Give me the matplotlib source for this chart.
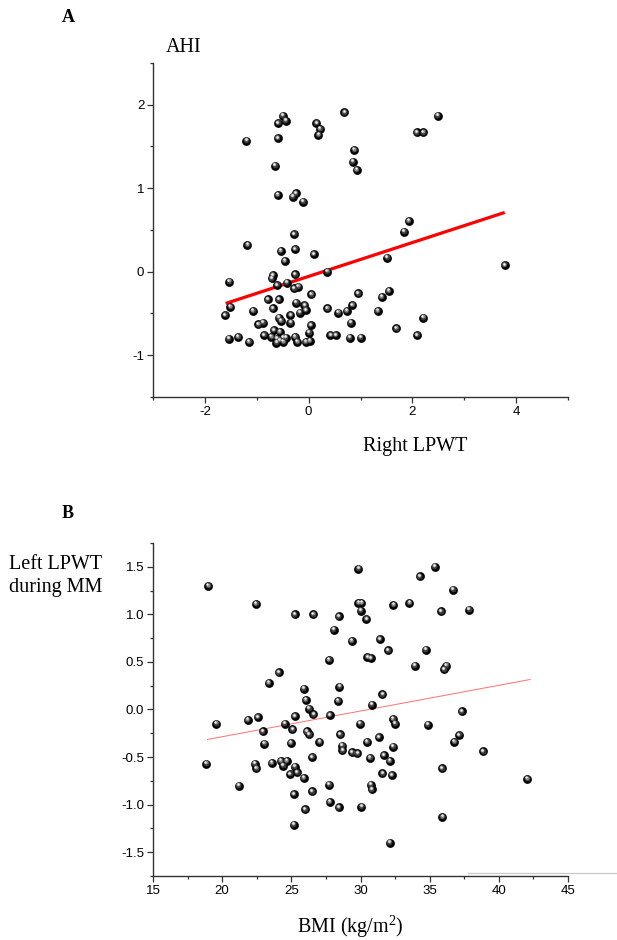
import matplotlib
matplotlib.use('Agg')
import matplotlib.pyplot as plt
import matplotlib.transforms as mtransforms
from matplotlib.lines import Line2D
from matplotlib.ticker import MultipleLocator
import numpy as np

plt.rcParams['axes.unicode_minus'] = False
plt.rcParams['mathtext.fontset'] = 'custom'
plt.rcParams['mathtext.rm'] = 'Liberation Serif'
plt.rcParams['mathtext.it'] = 'Liberation Serif:italic'

# panel A: Right LPWT vs AHI
right_lpwt = [-1.20, -0.60, -0.65, -0.60, -0.31, -0.25, -0.11, -0.50, -0.44, -0.59, 0.15, 0.22,
              0.19, 0.69, 0.88, 0.85, 0.93, 2.08, 2.21, 2.49, 1.93, 1.84, -0.28, -1.18,
              -0.54, -0.26, 0.10, -0.46, 1.51, -1.53, -0.69, -0.71, -0.26, 0.36, -0.61, -0.42,
              -0.28, -0.20, 0.05, -1.51, -1.61, -0.79, -0.58, -1.07, -0.69, -0.24, -0.08, -0.06,
              -0.17, -0.35, -0.58, -0.53, -0.35, -0.97, -0.88, 0.04, 0.36, 0.57, 0.73, 0.84,
              0.95, 0.81, 1.33, 1.41, 1.54, 1.69,
              -1.54, -1.36, -1.15, -0.86, -0.67, -0.56, -0.72, -0.61, -0.49, -0.62, -0.49, -0.44,
              -0.56, -0.26, -0.22, -0.06, 0.02, 0.01, 0.42, 0.52, 0.79, 1.00,
              3.78, 2.21, 2.09]
ahi = [1.57, 1.60, 1.27, 0.92, 0.90, 0.94, 0.84, 1.87, 1.81, 1.78, 1.78, 1.71,
       1.64, 1.91, 1.46, 1.32, 1.22, 1.67, 1.67, 1.87, 0.61, 0.48, 0.45, 0.32,
       0.25, 0.27, 0.21, 0.13, 0.17, -0.12, -0.04, -0.08, -0.03, 0.00, -0.16, -0.13,
       -0.20, -0.18, -0.27, -0.42, -0.52, -0.33, -0.33, -0.47, -0.44, -0.37, -0.40, -0.46,
       -0.49, -0.52, -0.55, -0.59, -0.61, -0.63, -0.61, -0.64, -0.44, -0.49, -0.47, -0.40,
       -0.26, -0.61, -0.47, -0.30, -0.23, -0.68,
       -0.80, -0.78, -0.84, -0.76, -0.70, -0.72, -0.78, -0.80, -0.79, -0.85, -0.84, -0.79,
       -0.82, -0.78, -0.84, -0.84, -0.83, -0.73, -0.76, -0.76, -0.79, -0.79,
       0.08, -0.55, -0.76]
fit_a_x = [-1.60, 3.78]
fit_a_y = [-0.38, 0.71]

# panel B: BMI vs Left LPWT during MM
bmi = [18.99, 22.44, 25.25, 26.58, 28.41, 28.07, 29.37, 27.73, 24.10, 23.35, 25.90, 28.48,
       26.05, 26.29, 26.60, 27.78, 28.38, 25.23, 22.56, 21.86, 19.57, 24.53, 29.85, 29.85,
       30.07, 30.00,
       35.36, 34.28, 36.68, 32.38, 33.53, 35.82, 37.84, 30.43, 31.39, 31.99, 34.71, 30.50,
       30.74, 33.92, 36.03, 36.20, 31.58, 30.81, 37.31, 29.97, 32.35, 32.50, 34.86,
       22.94, 25.08, 26.10, 26.29, 28.53, 23.04, 24.96, 27.03, 28.67, 28.69, 29.39, 29.78,
       26.50, 18.85, 22.36, 22.46, 23.57, 24.24, 24.65, 24.41, 25.23, 24.91, 25.42, 25.88,
       21.19, 27.73, 25.16, 26.50, 27.76, 28.41, 26.00, 25.18,
       30.47, 31.32, 32.35, 30.69, 31.68, 32.11, 31.58, 32.26, 30.74, 30.81, 30.07, 32.11,
       37.12, 36.78, 35.89, 35.92, 38.85, 42.05]
left_lpwt = [1.30, 1.11, 1.00, 1.00, 0.98, 0.84, 0.72, 0.52, 0.39, 0.28, 0.22, 0.24,
             0.10, 0.01, -0.05, -0.06, 0.09, -0.07, -0.08, -0.11, -0.15, -0.15, 1.48, 1.12,
             1.12, 1.04,
             1.50, 1.40, 1.26, 1.10, 1.12, 1.03, 1.05, 0.95, 0.74, 0.62, 0.63, 0.55,
             0.54, 0.46, 0.42, 0.46, 0.16, 0.05, -0.02, -0.15, -0.10, -0.15, -0.16,
             -0.23, -0.21, -0.23, -0.26, -0.26, -0.36, -0.35, -0.34, -0.38, -0.43, -0.45, -0.46,
             -0.50, -0.57, -0.57, -0.62, -0.56, -0.54, -0.54, -0.59, -0.60, -0.68, -0.66, -0.72,
             -0.80, -0.79, -0.89, -0.86, -0.97, -1.03, -1.05, -1.21,
             -0.34, -0.29, -0.39, -0.51, -0.48, -0.54, -0.67, -0.69, -0.79, -0.84, -1.02, -1.40,
             -0.27, -0.34, -0.62, -1.13, -0.44, -0.73]
fit_b_x = [18.94, 42.26]
fit_b_y = [-0.315, 0.315]

serif = 'Liberation Serif'
sans = 'Liberation Sans'

fig = plt.figure(figsize=(6.17, 9.4), dpi=100)
axA = fig.add_axes([0.248, 0.5777, 0.6726, 0.3553])
axB = fig.add_axes([0.248, 0.0681, 0.6726, 0.3543])


def balls(ax, x, y):
    # fake shaded spheres: dark body plus lighter highlight layers
    ax.scatter(x, y, s=40, color='black', zorder=3, linewidths=0)
    layers = [(18, '#3a3a3a', -0.3, 0.5), (8, '#8a8a8a', -0.5, 0.9), (2.8, '#f2f2f2', -0.6, 1.1)]
    for s, c, dx, dy in layers:
        tr = mtransforms.offset_copy(ax.transData, fig=fig, x=dx, y=dy, units='points')
        ax.scatter(x, y, s=s, color=c, zorder=4, linewidths=0, transform=tr)


def style(ax):
    for side in ['top', 'right']:
        ax.spines[side].set_visible(False)
    for side in ['left', 'bottom']:
        ax.spines[side].set_color('#333333')
        ax.spines[side].set_linewidth(1.0)
    ax.tick_params(which='major', direction='out', length=4.3, width=0.9, color='#333333',
                   labelsize=9.5, pad=2)
    ax.tick_params(which='minor', direction='out', length=2.2, width=0.9, color='#333333')
    for lab in ax.get_xticklabels() + ax.get_yticklabels():
        lab.set_fontfamily(sans)


# panel A
balls(axA, right_lpwt, ahi)
axA.plot(fit_a_x, fit_a_y, color='#ff0000', lw=2.3, zorder=2, solid_capstyle='butt')
axA.set_xlim(-3, 5)
axA.set_ylim(-1.5, 2.5)
axA.xaxis.set_major_locator(MultipleLocator(2))
axA.xaxis.set_minor_locator(MultipleLocator(1))
axA.yaxis.set_major_locator(MultipleLocator(1))
axA.yaxis.set_minor_locator(MultipleLocator(0.5))
style(axA)

fig.text(68 / 617, 1 - 18 / 940, 'A', fontfamily=serif, fontweight='bold', fontsize=13,
         ha='center', va='center')
fig.text(166 / 617, 1 - 47 / 940, 'AHI', fontfamily=serif, fontsize=14.5, ha='left', va='center')
fig.text(415 / 617, 1 - 447 / 940, 'Right LPWT', fontfamily=serif, fontsize=14.5,
         ha='center', va='center')

# panel B
balls(axB, bmi, left_lpwt)
axB.plot(fit_b_x, fit_b_y, color='#ff7070', lw=0.7, zorder=2)
axB.set_xlim(15, 45)
axB.set_ylim(-1.75, 1.75)
axB.xaxis.set_major_locator(MultipleLocator(5))
axB.xaxis.set_minor_locator(MultipleLocator(2.5))
axB.yaxis.set_major_locator(MultipleLocator(0.5))
axB.yaxis.set_minor_locator(MultipleLocator(0.25))
axB.yaxis.set_major_formatter(plt.FuncFormatter(lambda v, p: '%.1f' % v))
style(axB)

fig.text(68 / 617, 1 - 514 / 940, 'B', fontfamily=serif, fontweight='bold', fontsize=13,
         ha='center', va='center')
fig.text(9 / 617, 1 - 576 / 940, 'Left LPWT\nduring MM', fontfamily=serif, fontsize=14.5,
         ha='left', va='center', linespacing=1.25)
fig.text(350 / 617, 1 - 927 / 940, 'BMI (kg/m$^2$)', fontfamily=serif, fontsize=14.5,
         ha='center', va='center')

# faint stray line near the bottom axis, as in the source image
fig.add_artist(Line2D([468 / 617, 1.0], [1 - 873 / 940] * 2, transform=fig.transFigure,
                      color='#c8c8c8', lw=0.9))

fig.savefig('out.png', dpi=100)
